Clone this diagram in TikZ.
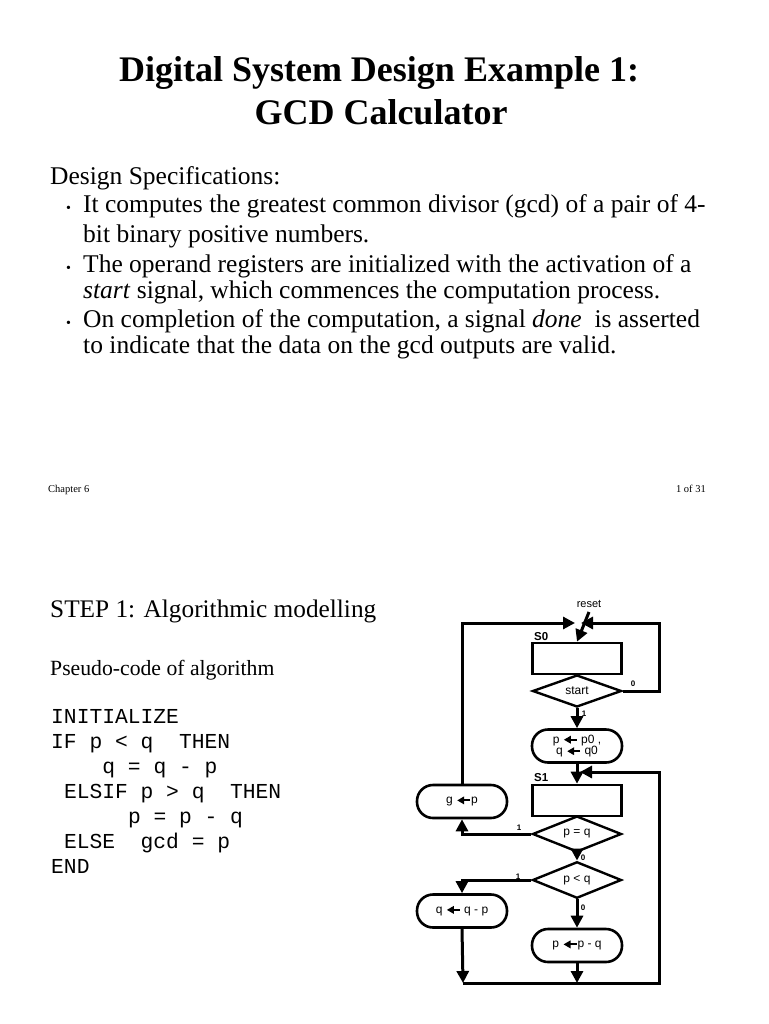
\documentclass[tikz,border=0pt]{standalone}
\usepackage{fontspec}
\setmainfont{Liberation Serif}
\setsansfont{Liberation Sans}
\setmonofont{Liberation Mono}
\usetikzlibrary{shapes.geometric,arrows.meta}

\tikzset{
  statebox/.style={draw,line width=2.6pt,minimum width=89pt,minimum height=31pt,inner sep=0pt},
  decision/.style={draw,diamond,line width=2.4pt,minimum width=89pt,minimum height=32pt,inner sep=0pt,
    font=\sffamily\fontsize{12}{13}\selectfont},
  action/.style={draw,rounded corners=16pt,line width=2.6pt,minimum width=90pt,minimum height=33pt,
    inner sep=0pt,align=center,font=\sffamily\fontsize{12}{12.5}\selectfont},
  flow/.style={line width=3pt,-{Triangle[length=12pt,width=12pt]}},
  lbl/.style={inner sep=0pt,font=\sffamily\bfseries\fontsize{8}{8}\selectfont},
  slbl/.style={anchor=base west,inner sep=0pt,font=\sffamily\bfseries\fontsize{11.5}{11.5}\selectfont},
  txt/.style={anchor=base west,inner sep=0pt,font=\fontsize{25.5}{29}\selectfont},
  code/.style={anchor=base west,inner sep=0pt,font=\ttfamily\fontsize{21.3}{25}\selectfont},
}
\newcommand{\getarrow}{\tikz[baseline=-0.55ex]\draw[line width=2pt,-{Triangle[length=7pt,width=7.5pt]}] (13pt,0pt)--(0pt,0pt);}

\begin{document}
\begin{tikzpicture}[x=1pt,y=1pt]
  \fill[white] (0,0) rectangle (768,-1024);
  \useasboundingbox (0,0) rectangle (768,-1024);

  % title
  \node[anchor=base,inner sep=0pt,font=\bfseries\fontsize{36}{40}\selectfont] (title1) at (379,-82) {Digital System Design Example 1:};
  \node[anchor=base,inner sep=0pt,font=\bfseries\fontsize{36}{40}\selectfont] (title2) at (381,-125) {GCD Calculator};

  % specification text
  \node[txt] (spec) at (50,-185) {Design Specifications:};
  \foreach \y in {213,272,327}
    \node[anchor=base,inner sep=0pt,font=\fontsize{14}{14}\selectfont] at (68.5,-\y) {\textbullet};
  \node[txt] (l1) at (83,-213) {It computes the greatest common divisor (gcd) of a pair of 4-};
  \node[txt] (l2) at (83,-242) {bit binary positive numbers.};
  \node[txt] (l3) at (83,-272) {The operand registers are initialized with the activation of a};
  \node[txt] (l4) at (83,-298) {\textit{start} signal, which commences the computation process.};
  \node[txt] (l5) at (83,-327) {On completion of the computation, a signal \textit{done}~ is asserted};
  \node[txt] (l6) at (83,-353) {to indicate that the data on the gcd outputs are valid.};

  % footer
  \node[anchor=base west,inner sep=0pt,font=\fontsize{10.5}{10.5}\selectfont] (chap) at (48,-492) {Chapter 6};
  \node[anchor=base east,inner sep=0pt,font=\fontsize{10.5}{10.5}\selectfont] (page) at (706,-492) {1 of 31};

  % step 1 and pseudo-code
  \node[txt,font=\fontsize{25.3}{29}\selectfont] (step) at (50,-617) {STEP 1: Algorithmic modelling};
  \node[txt,font=\fontsize{21.7}{25}\selectfont] (pseudo) at (50,-675) {Pseudo-code of algorithm};
  \node[code] (c1) at (51,-723) {INITIALIZE};
  \node[code] (c2) at (51,-748) {IF p < q~ THEN};
  \node[code] (c3) at (102.2,-773) {q = q - p};
  \node[code] (c4) at (63.8,-798) {ELSIF p > q~ THEN};
  \node[code] (c5) at (127.8,-823) {p = p - q};
  \node[code] (c6) at (63.8,-848) {ELSE~ gcd = p};
  \node[code] (c7) at (51,-873) {END};

  % flowchart nodes
  \node[statebox] (s0) at (577,-658.5) {};
  \node[decision] (start) at (577,-691) {start};
  \node[action] (init) at (577,-746) {p \getarrow\ p0 ,\\[-1pt] q \getarrow\ q0};
  \node[statebox] (s1) at (577,-800.5) {};
  \node[decision] (peq) at (577,-834) {p = q};
  \node[decision] (plt) at (577,-880) {p < q};
  \node[action] (gp) at (462,-801.5) {g \getarrow p};
  \node[action] (qsub) at (462,-911) {q \getarrow\ q - p};
  \node[action] (psub) at (577,-945.5) {p \getarrow p - q};
  \node[slbl] (s0lbl) at (534,-640) {S0};
  \node[slbl] (s1lbl) at (534,-781) {S1};
  \node[inner sep=0pt,font=\sffamily\fontsize{11}{11}\selectfont] (reset) at (589,-604) {reset};

  % free ends
  \coordinate (rst) at (589,-612);
  \coordinate (tl) at (575,-623);
  \coordinate (tr) at (581,-623);
  \coordinate (s1in) at (580,-772);
  \coordinate (bl) at (463,-983);
  \coordinate (bm) at (577,-983);

  % connectors
  \draw[flow] (rst) -- (s0.north);
  \draw[flow] (gp.north) |- (tl);
  \draw[flow] (start.east) -- (659,-691) |- (tr);
  \draw[flow] (start.south) -- (init.north);
  \draw[flow] (init.south) -- (s1.north);
  \draw[flow] (peq.west) -| (gp.south);
  \draw[flow] (peq.south) -- (plt.north);
  \draw[flow] (plt.west) -| (qsub.north);
  \draw[flow] (plt.south) -- (psub.north);
  \draw[flow] (qsub.south) -- (bl);
  \draw[flow] (psub.south) -- (bm);
  \draw[flow] (bl) -- (659,-983) |- (s1in);

  % branch labels
  \node[lbl] (o0) at (633,-684) {0};
  \node[lbl] (o1) at (584,-714) {1};
  \node[lbl] (e1) at (519,-828) {1};
  \node[lbl] (e0) at (583,-858) {0};
  \node[lbl] (t1) at (518,-877) {1};
  \node[lbl] (t0) at (583,-908) {0};
\end{tikzpicture}
\end{document}
